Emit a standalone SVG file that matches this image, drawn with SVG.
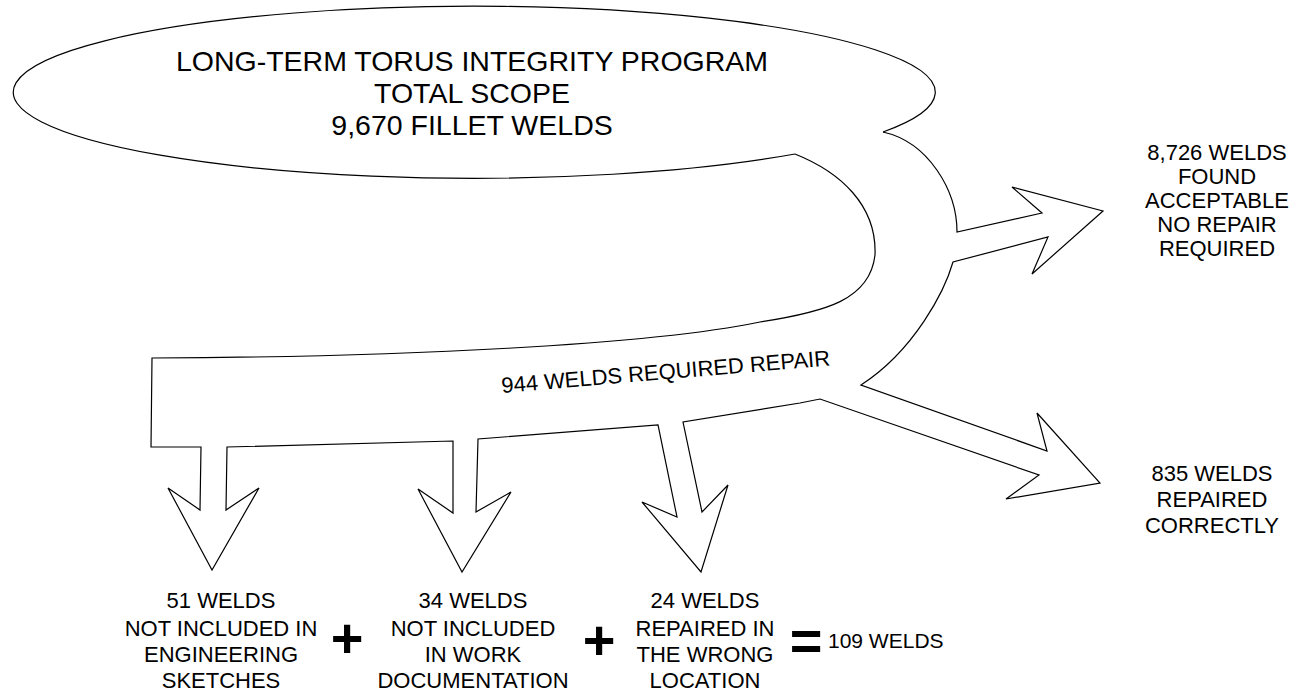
<svg xmlns="http://www.w3.org/2000/svg" width="1307" height="696" viewBox="0 0 1307 696">
<style>
.ol{fill:none;stroke:#000;stroke-width:1.2;stroke-linejoin:miter}
text{font-family:"Liberation Sans",Arial,sans-serif;fill:#000}
.t{font-size:22px;text-anchor:middle}
.big{font-size:28.5px;text-anchor:middle}
.op{font-size:56px;font-weight:bold;text-anchor:middle}
</style>
<rect width="1307" height="696" fill="#fff"/>
<g id="scope">
<path class="ol" d="M 795,154 A 461 86 0 1 1 883,132"/>
<text class="big" x="472" y="71">LONG-TERM TORUS INTEGRITY PROGRAM</text>
<text class="big" x="472" y="103">TOTAL SCOPE</text>
<text class="big" x="472" y="135">9,670 FILLET WELDS</text>
</g>
<g id="connectors">
<path class="ol" d="M 883,132 C 928,142 957,190 957,232 L 1042,213 L 1012,187 L 1103,211 L 1032,274 L 1048,237 L 953,262 C 945,290 915,350 861,385 L 1047,451 L 1037,413 L 1100,483 L 1006,499 L 1039,475 L 820,399 L 800,403 L 683,422 L 702,512 L 728,485 L 701,572 L 642,502 L 677,517 L 658,425 L 478,439 L 476,512 L 511,492 L 462,572 L 418,489 L 453,513 L 453,441 L 227,447 L 226,510 L 259,488 L 212,570 L 168,488 L 200,510 L 201,447 L 151,447 L 152,358 C 400,357 650,345 760,322 C 825,312 870,300 875,255 C 877,205 840,172 795,154"/>
<text class="t" x="502" y="393" style="text-anchor:start" transform="rotate(-4.8 502 393)">944 WELDS REQUIRED REPAIR</text>
</g>
<g id="acceptable">
<text class="t" x="1217" y="160">8,726 WELDS</text>
<text class="t" x="1217" y="184">FOUND</text>
<text class="t" x="1217" y="208">ACCEPTABLE</text>
<text class="t" x="1217" y="232">NO REPAIR</text>
<text class="t" x="1217" y="256">REQUIRED</text>
</g>
<g id="repaired">
<text class="t" x="1212" y="481">835 WELDS</text>
<text class="t" x="1212" y="507">REPAIRED</text>
<text class="t" x="1212" y="533">CORRECTLY</text>
</g>
<g id="sketches">
<text class="t" x="221" y="608">51 WELDS</text>
<text class="t" x="221" y="636">NOT INCLUDED IN</text>
<text class="t" x="221" y="662">ENGINEERING</text>
<text class="t" x="221" y="688">SKETCHES</text>
</g>
<g id="work-doc">
<text class="t" x="473" y="608">34 WELDS</text>
<text class="t" x="473" y="636">NOT INCLUDED</text>
<text class="t" x="473" y="662">IN WORK</text>
<text class="t" x="473" y="688">DOCUMENTATION</text>
</g>
<g id="wrong-location">
<text class="t" x="705" y="608">24 WELDS</text>
<text class="t" x="705" y="636">REPAIRED IN</text>
<text class="t" x="705" y="662">THE WRONG</text>
<text class="t" x="705" y="688">LOCATION</text>
</g>
<g id="sum">
<text class="op" x="347" y="657">+</text>
<text class="op" x="599" y="659">+</text>
<text class="op" x="806" y="660">=</text>
<text x="828" y="648" style="font-size:21px">109 WELDS</text>
</g>
</svg>
